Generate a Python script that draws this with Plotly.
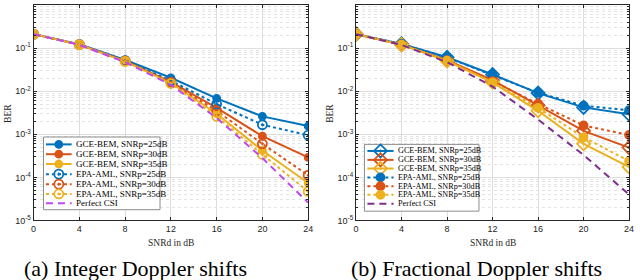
import plotly.graph_objects as go

# ---------------- data ----------------
snr = [0, 4, 8, 12, 16, 20, 24]
x_ticks = [0, 4, 8, 12, 16, 20, 24]
y_ticks = [1, 1e-1, 1e-2, 1e-3, 1e-4, 1e-5]
y_ticktext = ["10<sup>0</sup>", "10<sup>-1</sup>", "10<sup>-2</sup>", "10<sup>-3</sup>", "10<sup>-4</sup>", "10<sup>-5</sup>"]

# (a) Integer Doppler shifts
gce25_a = [0.21, 0.122, 0.053, 0.0204, 0.0068, 0.0026, 0.00155]
gce30_a = [0.21, 0.120, 0.050, 0.0165, 0.0041, 0.00090, 0.00029]
gce35_a = [0.21, 0.120, 0.049, 0.0155, 0.0030, 0.00042, 0.000074]
epa25_a = [0.21, 0.121, 0.051, 0.0175, 0.0050, 0.00166, 0.00095]
epa30_a = [0.21, 0.120, 0.050, 0.0160, 0.0035, 0.00060, 0.000112]
epa35_a = [0.21, 0.120, 0.049, 0.0150, 0.0026, 0.00034, 0.000047]
perf_a = [0.21, 0.118, 0.047, 0.0140, 0.0024, 0.00028, 0.000026]

# (b) Fractional Doppler shifts
gce25_b = [0.21, 0.125, 0.061, 0.0244, 0.0090, 0.0042, 0.0029]
gce30_b = [0.21, 0.120, 0.052, 0.0180, 0.0047, 0.0012, 0.00049]
gce35_b = [0.21, 0.120, 0.050, 0.0160, 0.0035, 0.00060, 0.000175]
epa25_b = [0.21, 0.125, 0.060, 0.0240, 0.0092, 0.0046, 0.0036]
epa30_b = [0.21, 0.120, 0.052, 0.0170, 0.0051, 0.0016, 0.00096]
epa35_b = [0.21, 0.120, 0.051, 0.0160, 0.0041, 0.00085, 0.00024]
perf_b = [0.21, 0.118, 0.047, 0.0128, 0.0022, 0.00033, 0.000040]

legend_labels = ["GCE-BEM, SNRp=25dB", "GCE-BEM, SNRp=30dB", "GCE-BEM, SNRp=35dB",
                 "EPA-AML, SNRp=25dB", "EPA-AML, SNRp=30dB", "EPA-AML, SNRp=35dB",
                 "Perfect CSI"]

# ---------------- styles ----------------
W, H = 640, 280
BLUE, ORANGE, YELLOW = "#0072BD", "#D95319", "#EDB120"
VIOLET_A, PURPLE_B = "#C048F0", "#7E2F8E"
SERIF = "Liberation Serif"
SANS = "Liberation Sans"
AX = "#262626"

def px(x):
    return x / W

def py(y):
    return 1 - y / H

fig = go.Figure()

panels = [
    dict(xa="x", ya="y",
         gce=[gce25_a, gce30_a, gce35_a], epa=[epa25_a, epa30_a, epa35_a], perf=perf_a,
         gce_sym="circle", gce_size=7, epa_sym="circle-open-dot", epa_size=9, perf_col=VIOLET_A),
    dict(xa="x2", ya="y2",
         gce=[gce25_b, gce30_b, gce35_b], epa=[epa25_b, epa30_b, epa35_b], perf=perf_b,
         gce_sym="diamond-open-dot", gce_size=10, epa_sym="circle", epa_size=8, perf_col=PURPLE_B),
]
cols = [BLUE, ORANGE, YELLOW]

for p in panels:
    for ser, c in zip(p["gce"], cols):
        fig.add_trace(go.Scatter(x=snr, y=ser, xaxis=p["xa"], yaxis=p["ya"], mode="lines+markers",
                                 line=dict(color=c, width=2),
                                 marker=dict(symbol=p["gce_sym"], size=p["gce_size"], color=c,
                                             line=dict(color=c, width=1.8)),
                                 showlegend=False))
    for ser, c in zip(p["epa"], cols):
        fig.add_trace(go.Scatter(x=snr, y=ser, xaxis=p["xa"], yaxis=p["ya"], mode="lines+markers",
                                 line=dict(color=c, width=2, dash="dot"),
                                 marker=dict(symbol=p["epa_sym"], size=p["epa_size"], color=c,
                                             line=dict(color=c, width=1.8)),
                                 showlegend=False))
    fig.add_trace(go.Scatter(x=snr, y=p["perf"], xaxis=p["xa"], yaxis=p["ya"], mode="lines",
                             line=dict(color=p["perf_col"], width=2, dash="7px,5px"),
                             showlegend=False))

# ---------------- custom legends (overlay pixel axis) ----------------
legends = [
    dict(box=(41, 139.5, 159, 213.5), rows=[147, 157, 167, 177.3, 187.5, 197.5, 207],
         lx=(43.5, 69.5), tx=71.5, fs=9, perf_col=VIOLET_A,
         sym=["circle"] * 3 + ["circle-open-dot"] * 3, size=[7] * 3 + [9] * 3),
    dict(box=(366, 147, 482, 215), rows=[153.7, 162.8, 171.6, 180.6, 189.6, 198.4, 207.4],
         lx=(369, 395.5), tx=397.5, fs=8.2, perf_col=PURPLE_B,
         sym=["diamond-open-dot"] * 3 + ["circle"] * 3, size=[10] * 3 + [8] * 3),
]
for lg in legends:
    x0, y0, x1, y1 = lg["box"]
    fig.add_trace(go.Scatter(x=[x0, x1, x1, x0, x0], y=[y0, y0, y1, y1, y0], xaxis="x3", yaxis="y3",
                             mode="lines", fill="toself", fillcolor="white",
                             line=dict(color="#8c8c8c", width=1), showlegend=False, hoverinfo="skip"))
    a, b = lg["lx"]
    m = (a + b) / 2
    for i in range(7):
        yy = lg["rows"][i]
        if i < 6:
            c = cols[i % 3]
            dash = "solid" if i < 3 else "dot"
            fig.add_trace(go.Scatter(x=[a, b], y=[yy, yy], xaxis="x3", yaxis="y3", mode="lines",
                                     line=dict(color=c, width=2, dash=dash), showlegend=False, hoverinfo="skip"))
            fig.add_trace(go.Scatter(x=[m], y=[yy], xaxis="x3", yaxis="y3", mode="markers",
                                     marker=dict(symbol=lg["sym"][i], size=lg["size"][i], color=c,
                                                 line=dict(color=c, width=1.8)),
                                     showlegend=False, hoverinfo="skip"))
        else:
            fig.add_trace(go.Scatter(x=[a, b], y=[yy, yy], xaxis="x3", yaxis="y3", mode="lines",
                                     line=dict(color=lg["perf_col"], width=2, dash="7px,5px"),
                                     showlegend=False, hoverinfo="skip"))
        fig.add_annotation(x=px(lg["tx"]), y=py(yy), xref="paper", yref="paper", text=legend_labels[i],
                           showarrow=False, xanchor="left", yanchor="middle",
                           font=dict(family=SERIF, size=lg["fs"], color="black"))

# ---------------- axes ----------------
minor_vals = [k * 10.0 ** e for e in range(-5, 0) for k in range(2, 10)]

def xaxis(dom):
    return dict(domain=dom, range=[0, 24], tickvals=x_ticks, ticks="inside", ticklen=3,
                tickcolor=AX, showline=True, linecolor=AX, linewidth=1, mirror="ticks",
                showgrid=True, gridcolor="#dedede", gridwidth=1, zeroline=False,
                tickfont=dict(family=SANS, size=9, color=AX))

def yaxis(dom):
    return dict(domain=dom, type="log", range=[-5, 0], tickvals=y_ticks, ticktext=y_ticktext,
                ticks="inside", ticklen=3, tickcolor=AX, showline=True, linecolor=AX, linewidth=1,
                mirror="ticks", showgrid=True, gridcolor="#dedede", gridwidth=1, zeroline=False,
                tickfont=dict(family=SANS, size=9, color=AX),
                minor=dict(tickmode="array", tickvals=minor_vals, showgrid=True,
                           gridcolor="#e4e4e4", griddash="dot", gridwidth=1, ticks="inside",
                           ticklen=2, tickcolor=AX))

ydom = [py(224.5), py(5)]
fig.update_layout(
    width=W, height=H, margin=dict(l=0, r=0, t=0, b=0),
    paper_bgcolor="white", plot_bgcolor="rgba(0,0,0,0)",
    xaxis=xaxis([px(31), px(309)]), yaxis=yaxis(ydom),
    xaxis2=dict(xaxis([px(357.5), px(634)]), anchor="y2"), yaxis2=dict(yaxis(ydom), anchor="x2"),
    xaxis3=dict(domain=[0, 1], range=[0, W], visible=False, anchor="y3", fixedrange=True),
    yaxis3=dict(domain=[0, 1], range=[H, 0], visible=False, anchor="x3", fixedrange=True),
    showlegend=False,
)
fig.layout.xaxis.anchor = "y"
fig.layout.yaxis.anchor = "x"

# axis titles and captions
for cx, bx in [(170, 5), (496, 331)]:
    fig.add_annotation(x=px(cx), y=py(247), xref="paper", yref="paper", text="SNRd in dB",
                       showarrow=False, xanchor="center", yanchor="middle",
                       font=dict(family=SERIF, size=9.5, color=AX))
    fig.add_annotation(x=px(bx), y=py(115), xref="paper", yref="paper", text="BER", textangle=-90,
                       showarrow=False, xanchor="center", yanchor="middle",
                       font=dict(family=SERIF, size=9.5, color=AX))
fig.add_annotation(x=px(134), y=py(273), xref="paper", yref="paper", text="(a) Integer Doppler shifts",
                   showarrow=False, xanchor="center", yanchor="middle",
                   font=dict(family=SERIF, size=22, color="black"))
fig.add_annotation(x=px(479), y=py(273), xref="paper", yref="paper", text="(b) Fractional Doppler shifts",
                   showarrow=False, xanchor="center", yanchor="middle",
                   font=dict(family=SERIF, size=22, color="black"))

fig.write_html("out.html", config={"displayModeBar": False, "staticPlot": True},
               post_script="document.body.style.margin='0';document.body.style.overflow='hidden';")
